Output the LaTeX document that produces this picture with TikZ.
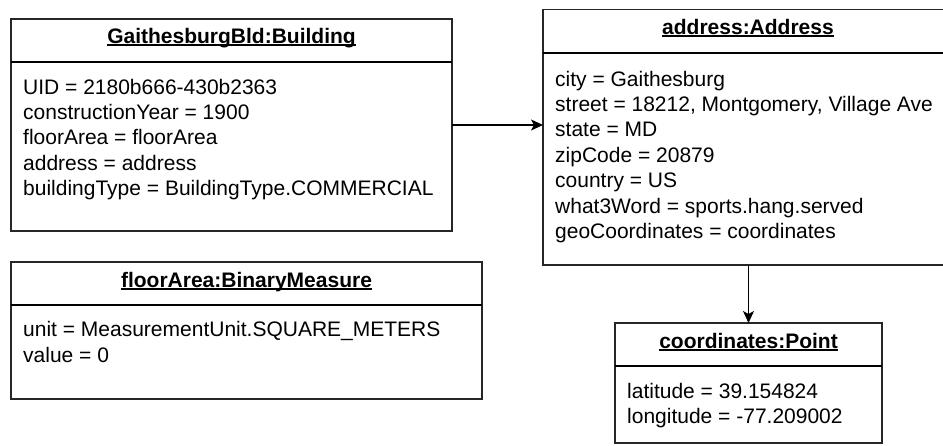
\documentclass[tikz,border=0pt]{standalone}
\usepackage{fontspec}
\setmainfont{Liberation Sans}
\usetikzlibrary{arrows.meta}

% object-diagram type size and underlined object names
\newcommand\objfont{\fontsize{21}{25.4}\selectfont}
\newcommand\ulname[1]{\setbox0\hbox{#1}\rlap{\rule[-2.2pt]{\wd0}{1.3pt}}\box0}
\newcommand\slots[1]{\parbox[t]{520pt}{\raggedright #1}}

\tikzset{
  obj/.style={draw=black!85, line width=1.1pt, inner sep=0pt, outer sep=0pt,
              anchor=north west, fill=white},
  divider/.style={draw=black, line width=2pt},
  objtitle/.style={anchor=base, inner sep=0pt, font=\objfont\bfseries},
  objbody/.style={anchor=base west, inner sep=0pt, font=\objfont},
  link/.style={draw=black, line width=1.1pt,
               -{Stealth[length=12pt,width=11pt,inset=3pt]}}
}

\begin{document}
\begin{tikzpicture}[x=1pt, y=-1pt]
  \useasboundingbox (0,0) rectangle (943,445);
  \clip (0,0) rectangle (943,445);

  % object boxes
  \node[obj, minimum width=441pt, minimum height=212pt] (bld) at (11,19) {};
  \node[obj, minimum width=410pt, minimum height=255.5pt] (addr) at (543,9.5) {};
  \node[obj, minimum width=471pt, minimum height=137pt] (area) at (11,262) {};
  \node[obj, minimum width=267pt, minimum height=120pt] (pt) at (615,323) {};

  % header separators
  \foreach \b in {bld,addr,area,pt}
    \draw[divider] ([yshift=-43pt]\b.north west) -- ([yshift=-43pt]\b.north east);

  % object names
  \node[objtitle] (bldname) at ([yshift=-24.5pt]bld.north) {\ulname{GaithesburgBld:Building}};
  \node[objtitle] (addrname) at ([yshift=-24.8pt]addr.north) {\ulname{address:Address}};
  \node[objtitle] (areaname) at ([yshift=-25.5pt]area.north) {\ulname{floorArea:BinaryMeasure}};
  \node[objtitle] (ptname) at ([yshift=-25.3pt]pt.north) {\ulname{coordinates:Point}};

  % attribute slots
  \node[objbody] (bldslots) at ([xshift=12pt,yshift=-75pt]bld.north west) {\slots{%
    UID = 2180b666-430b2363\\
    constructionYear = 1900\\
    floorArea = floorArea\\
    address = address\\
    buildingType = BuildingType.COMMERCIAL}};
  \node[objbody] (addrslots) at ([xshift=12pt,yshift=-76.5pt]addr.north west) {\slots{%
    city = Gaithesburg\\
    street = 18212, Montgomery, Village Ave\\
    state = MD\\
    zipCode = 20879\\
    country = US\\
    what3Word = sports.hang.served\\
    geoCoordinates = coordinates}};
  \node[objbody] (areaslots) at ([xshift=12pt,yshift=-74.7pt]area.north west) {\slots{%
    unit = MeasurementUnit.SQUARE\_METERS\\
    value = 0}};
  \node[objbody] (ptslots) at ([xshift=12pt,yshift=-75pt]pt.north west) {\slots{%
    latitude = 39.154824\\
    longitude = -77.209002}};

  % links
  \draw[link] (bld.east) -- (bld.east -| addr.west);
  \draw[link] (addr.south -| pt.north) -- (pt.north);
\end{tikzpicture}
\end{document}
